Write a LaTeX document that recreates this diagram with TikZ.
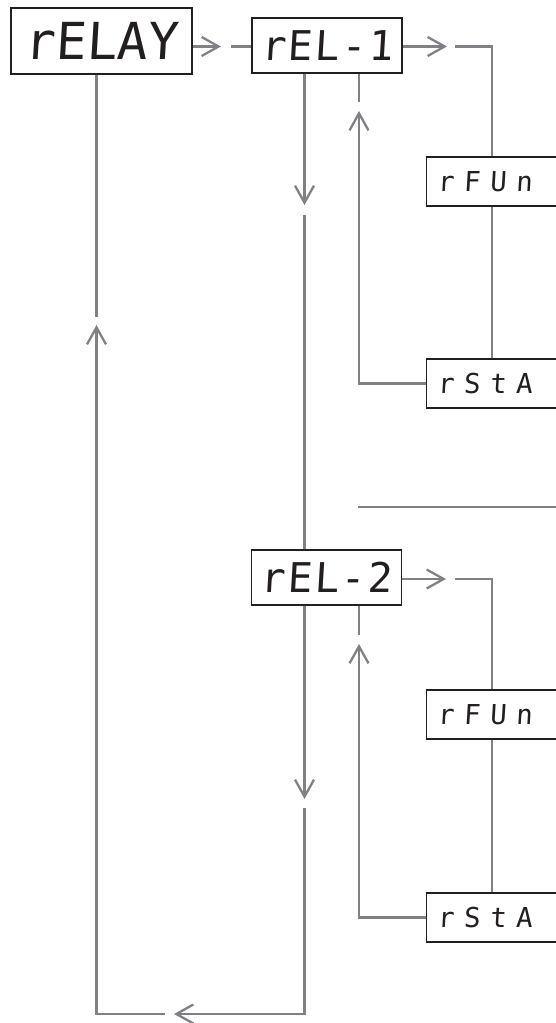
\documentclass[tikz,border=0pt]{standalone}
\usepackage{fontspec}
\newfontfamily\dispfont{DejaVu Sans Mono}[FakeSlant=0.06]
\usetikzlibrary{arrows.meta}
\definecolor{lgray}{RGB}{128,129,132}
\definecolor{boxc}{RGB}{35,31,32}
\begin{document}
\begin{tikzpicture}[x=0.5pt,y=-0.5pt,
  conn/.style={draw=lgray,line width=1.15pt},
  arr/.style={conn,-{Straight Barb[length=8.5pt,width=9.5pt]}},
  disp/.style={draw=boxc,line width=0.6pt,inner sep=0pt,text=boxc},
  bigdisp/.style={disp,minimum width=90.5pt,minimum height=33pt,
    font=\dispfont\fontsize{25.5}{25.5}\selectfont},
  middisp/.style={disp,minimum width=75pt,minimum height=27.5pt,
    font=\dispfont\fontsize{20.5}{20.5}\selectfont\addfontfeature{LetterSpace=5}},
  smalldisp/.style={disp,anchor=west,text width=90pt,inner xsep=5.5pt,align=left,
    minimum height=24.5pt,
    font=\dispfont\fontsize{13.7}{13.7}\selectfont\addfontfeature{LetterSpace=35}},
]
\useasboundingbox (0,0) rectangle (556,1023);
\clip (0,0) rectangle (556,1023);

% display boxes
\node[bigdisp] (relay) at (101.5,41) {rELAY};
\node[middisp] (rel1) at (327,45.5) {rEL-1};
\node[smalldisp] (rfun1) at (426,181.5) {rFUn};
\node[smalldisp] (rsta1) at (426,383.5) {rStA};
\node[middisp] (rel2) at (326.5,577.5) {rEL-2};
\node[smalldisp] (rfun2) at (426,714.5) {rFUn};
\node[smalldisp] (rsta2) at (426,917.5) {rStA};

% helper coordinates
\coordinate (a1) at (221,46.5);
\coordinate (a1b) at (231,46.5);
\coordinate (b1) at (447,46.5);
\coordinate (b1b) at (455,46.5);
\coordinate (c1) at (492,46.5);
\coordinate (u1) at (359,111);
\coordinate (u1b) at (359,102);
\coordinate (d1) at (304.5,205);
\coordinate (d1b) at (304.5,215);
\coordinate (s1) at (358,507);
\coordinate (s2) at (570,507);
\coordinate (b2) at (446,579);
\coordinate (b2b) at (455,579);
\coordinate (c2) at (492,579);
\coordinate (u2) at (359,644);
\coordinate (u2b) at (359,635);
\coordinate (d2) at (304.5,799);
\coordinate (d2b) at (304.5,808);
\coordinate (br) at (304.5,1014);
\coordinate (l1) at (174,1014);
\coordinate (l1b) at (165,1014);
\coordinate (bl) at (96.5,1014);
\coordinate (u3) at (96.5,325);
\coordinate (u3b) at (96.5,317);

% section 1
\draw[arr] (relay.east |- a1) -- (a1);
\draw[conn] (a1b) -- (rel1.west |- a1b);
\draw[arr] (rel1.east |- b1) -- (b1);
\draw[conn] (b1b) -- (c1) -- (c1 |- rfun1.north);
\draw[conn] (c1 |- rfun1.south) -- (c1 |- rsta1.north);
\draw[arr] (rsta1.west) -| (u1);
\draw[conn] (u1b) -- (u1b |- rel1.south);
\draw[arr] (d1 |- rel1.south) -- (d1);
\draw[conn] (d1b) -- (d1b |- rel2.north);

% separator
\draw[conn] (s1) -- (s2);

% section 2
\draw[arr] (rel2.east |- b2) -- (b2);
\draw[conn] (b2b) -- (c2) -- (c2 |- rfun2.north);
\draw[conn] (c2 |- rfun2.south) -- (c2 |- rsta2.north);
\draw[arr] (rsta2.west) -| (u2);
\draw[conn] (u2b) -- (u2b |- rel2.south);
\draw[arr] (d2 |- rel2.south) -- (d2);

% return path
\draw[arr] (d2b) -- (br) -- (l1);
\draw[arr] (l1b) -- (bl) -- (u3);
\draw[conn] (u3b) -- (u3b |- relay.south);
\end{tikzpicture}
\end{document}
